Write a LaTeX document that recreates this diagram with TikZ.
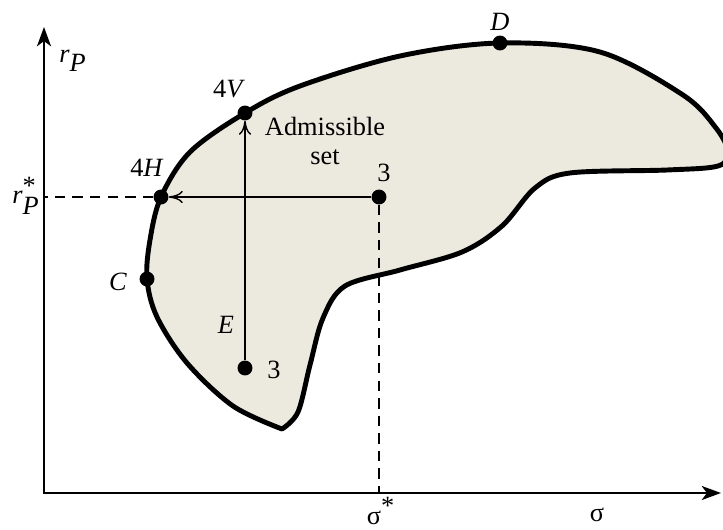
\documentclass[tikz,border=0pt]{standalone}
\usepackage{fontspec}
\setmainfont{Liberation Serif}
\usetikzlibrary{arrows.meta}
\definecolor{setfill}{RGB}{236,233,223}
\begin{document}
\begin{tikzpicture}[
    x=0.02cm, y=-0.02cm,
    font=\fontsize{15}{17}\selectfont,
    dot/.style={circle, fill=black, minimum size=8.5pt, inner sep=0pt},
    axes/.style={line width=1.1pt, {Stealth[length=11pt,width=8pt,inset=3pt]}-{Stealth[length=11pt,width=8pt,inset=3pt]}},
    move/.style={line width=0.8pt, -{To[length=8pt,width=7pt]}},
    guide/.style={line width=0.8pt, dash pattern=on 6pt off 4pt},
    region/.style={fill=setfill, draw=black, line width=2.8pt, line join=round}
  ]
  \useasboundingbox (0,0) rectangle (723,530);
  \clip (0,0) rectangle (723,530);
  % admissible set
  \draw[region] plot[smooth, tension=0.55] coordinates {
      (282,429) (233,406) (187,363) (157,317) (147,279) (150,240)
      (161,197) (190,152) (245,113) (300,86) (400,56) (500,43)
      (600,52) (683,95) (716,128) (728,152) (718,166) (667,170)
      (570,173) (535,188) (502,226) (462,252) (400,270) (345,286)
      (323,318) (310,365) (298,412) (282,429)} -- cycle;
  % axes
  \coordinate (ytip) at (44,27);
  \coordinate (xtip) at (721,493);
  \draw[axes] (ytip) |- (xtip);
  \coordinate (rstar) at (44,197);
  \coordinate (sstar) at (379,493);
  % points
  \node[dot] (d) at (500,43) {};
  \node[dot] (v4) at (245,113) {};
  \node[dot] (h4) at (161,197) {};
  \node[dot] (p3) at (379,197) {};
  \node[dot] (c) at (147,279) {};
  \node[dot] (e3) at (245,368) {};
  % moves
  \draw[move] (p3) -- (h4);
  \draw[move] (e3) -- (v4);
  \draw[guide] (h4) -- (rstar);
  \draw[guide] (p3) -- (sstar);
  % labels
  \node (dlab) at (500,22) {\textit{D}};
  \node (v4lab) at (229,89) {4\textit{V}};
  \node (h4lab) at (147,168) {4\textit{H}};
  \node (p3lab) at (384,173) {3};
  \node (clab) at (118,282) {\textit{C}};
  \node (elab) at (226,325) {\textit{E}};
  \node (e3lab) at (274,370) {3};
  \node[align=center] (adm) at (325,141) {Admissible\\set};
  \node (rp) at (73,61) {$\textit{r}_{\textit{P}}$};
  \node[inner sep=1pt] (rps) at (26,196) {$\textit{r}_{\textit{P}}^{\textrm{*}}$};
  \node[inner sep=1pt] (ss) at (381,511) {$\textrm{σ}^{\textrm{*}}$};
  \node (sig) at (597,515) {σ};
\end{tikzpicture}
\end{document}
